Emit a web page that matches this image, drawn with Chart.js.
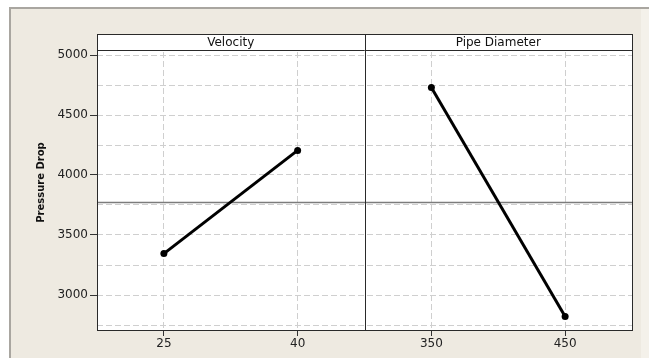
<!DOCTYPE html>
<html>
<head>
<meta charset="utf-8">
<script src="https://cdn.jsdelivr.net/npm/chart.js@4.4.1/dist/chart.umd.min.js"></script>
<style>
  html, body { margin: 0; padding: 0; background: #ffffff; }
  #wrap { width: 649px; height: 358px; }
  canvas { display: block; }
</style>
</head>
<body>
<div id="wrap"><canvas id="chart" width="649" height="358"></canvas></div>
<script>
// Main effects plot: mean pressure drop at each factor level
const velocityLevels = ['25', '40'];
const velocityMeans = [3345, 4205];
const diameterLevels = ['350', '450'];
const diameterMeans = [4730, 2820];
const panelTitles = ['Velocity', 'Pipe Diameter'];
const yGridValues = [2750, 3000, 3250, 3500, 3750, 4000, 4250, 4500, 4750, 5000];
const yTickLabels = ['3000', '3500', '4000', '4500', '5000'];

const allMeans = velocityMeans.concat(diameterMeans);
const grandMean = allMeans.reduce((a, b) => a + b, 0) / allMeans.length;

const FONT = 'DejaVu Sans';
const GRID = '#cfcfcf';
const FRAME = '#2a2a2a';
const HEADER_TOP = 34;

const panelFrame = {
  id: 'panelFrame',
  beforeDraw(chart) {
    const { ctx, chartArea: a, width, height } = chart;
    ctx.save();
    ctx.fillStyle = '#ffffff';
    ctx.fillRect(0, 0, width, height);
    ctx.fillStyle = '#eeeae1';
    ctx.fillRect(11, 9, 630, height - 9);
    ctx.fillStyle = '#f4f1ea';
    ctx.fillRect(641, 9, width - 641, height - 9);
    ctx.strokeStyle = '#a9a6a0';
    ctx.lineWidth = 2;
    ctx.beginPath();
    ctx.moveTo(10, height);
    ctx.lineTo(10, 8);
    ctx.lineTo(width, 8);
    ctx.stroke();
    ctx.fillStyle = '#ffffff';
    ctx.fillRect(a.left, a.top, a.right - a.left, a.bottom - a.top);
    ctx.restore();
  },
  beforeDatasetsDraw(chart) {
    // reference line at the grand mean of all level means
    const { ctx, chartArea: a, scales } = chart;
    const y = Math.round(scales.y.getPixelForValue(grandMean)) + 0.5;
    ctx.save();
    ctx.strokeStyle = '#7c7c7c';
    ctx.lineWidth = 1.5;
    ctx.beginPath();
    ctx.moveTo(a.left, y);
    ctx.lineTo(a.right, y);
    ctx.stroke();
    ctx.restore();
  },
  afterDraw(chart) {
    // panel header strip, divider and frame
    const { ctx, chartArea: a, scales } = chart;
    const headerBottom = HEADER_TOP + 16;
    ctx.save();
    ctx.fillStyle = '#ffffff';
    ctx.fillRect(a.left, a.top, a.right - a.left, headerBottom - a.top);
    ctx.strokeStyle = FRAME;
    ctx.lineWidth = 1;
    ctx.strokeRect(a.left + 0.5, a.top + 0.5, a.right - a.left, a.bottom - a.top - 1);
    ctx.beginPath();
    ctx.moveTo(a.left, headerBottom + 0.5);
    ctx.lineTo(a.right, headerBottom + 0.5);
    const split = Math.round(scales.x1.right) + 0.5;
    ctx.moveTo(split, a.top);
    ctx.lineTo(split, a.bottom);
    ctx.stroke();
    ctx.fillStyle = '#111111';
    ctx.font = '12px "' + FONT + '"';
    ctx.textAlign = 'center';
    ctx.textBaseline = 'middle';
    [scales.x1, scales.x2].forEach((s, i) => {
      ctx.fillText(panelTitles[i], (s.left + s.right) / 2, (a.top + headerBottom) / 2 + 1);
    });
    ctx.restore();
  }
};

function xPanel(levels) {
  return {
    type: 'category',
    labels: levels,
    position: 'bottom',
    stack: 'panels',
    stackWeight: 1,
    offset: true,
    grid: { color: GRID, tickColor: '#333333', tickLength: 5, drawTicks: true },
    border: { display: false, dash: [6, 3] },
    ticks: { font: { family: FONT, size: 12 }, color: '#222222', padding: 1, maxRotation: 0, autoSkip: false },
    afterFit(s) { s.height = 27; }
  };
}

new Chart(document.getElementById('chart'), {
  type: 'line',
  data: {
    datasets: [
      { label: panelTitles[0], data: velocityMeans, xAxisID: 'x1', yAxisID: 'y' },
      { label: panelTitles[1], data: diameterMeans, xAxisID: 'x2', yAxisID: 'y' }
    ].map(d => Object.assign(d, {
      borderColor: '#000000',
      borderWidth: 3,
      pointRadius: 3.5,
      pointBackgroundColor: '#000000',
      pointBorderWidth: 0,
      tension: 0,
      fill: false
    }))
  },
  options: {
    responsive: false,
    devicePixelRatio: 1,
    animation: false,
    layout: { padding: { top: HEADER_TOP, right: 17, bottom: 0, left: 0 } },
    plugins: { legend: { display: false }, tooltip: { enabled: false } },
    scales: {
      x1: xPanel(velocityLevels),
      x2: xPanel(diameterLevels),
      y: {
        type: 'linear',
        position: 'left',
        min: 2700,
        max: 5175,
        afterBuildTicks(s) { s.ticks = yGridValues.map(v => ({ value: v })); },
        ticks: {
          autoSkip: false,
          padding: 2,
          font: { family: FONT, size: 12 },
          color: '#222222',
          callback(v) { return yTickLabels.includes(String(v)) ? String(v) : ''; }
        },
        grid: {
          color: GRID,
          tickLength: 7,
          tickColor: ctx => yTickLabels.includes(String(ctx.tick && ctx.tick.value)) ? '#333333' : 'rgba(0,0,0,0)'
        },
        border: { display: false, dash: [6, 3] },
        title: {
          display: true,
          text: 'Pressure Drop',
          font: { family: FONT, size: 10, weight: 'bold' },
          color: '#111111',
          padding: { top: 35, bottom: 0 }
        },
        afterFit(s) { s.width = 97; }
      }
    }
  },
  plugins: [panelFrame]
});
</script>
</body>
</html>
